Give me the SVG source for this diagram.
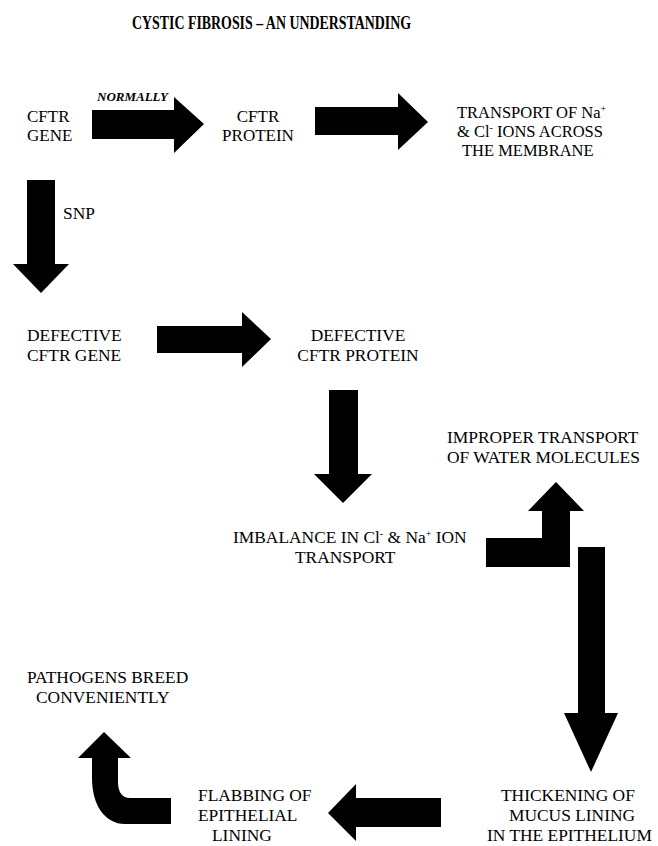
<svg xmlns="http://www.w3.org/2000/svg" width="658" height="846" viewBox="0 0 658 846">
<style>
text { font-family: "Liberation Serif", "Times New Roman", serif; fill: #000; }
.t { font-size: 17.4px; }
.t1 { font-size: 17px; }
.t2 { font-size: 16.5px; }
.title { font-size: 19px; font-weight: bold; }
.lbl { font-size: 13px; font-weight: bold; font-style: italic; }
.sup { font-size: 10px; }
.arrow { fill: #000; stroke: none; }
</style>
<rect x="0" y="0" width="658" height="846" fill="#fff"/>
<g id="title">
<text class="title" x="132" y="29" textLength="279" lengthAdjust="spacingAndGlyphs">CYSTIC FIBROSIS – AN UNDERSTANDING</text>
</g>
<g id="connectors">
<polygon class="arrow" points="92,110 174,110 174,97 204,124 174,153 174,139 92,139"/>
<polygon class="arrow" points="315,107 398,107 398,93 428,122 398,150 398,135 315,135"/>
<polygon class="arrow" points="27,180 55,180 55,264 69,264 41,293 13,264 27,264"/>
<polygon class="arrow" points="157,326 242,326 242,312 271,339 242,367 242,353 157,353"/>
<polygon class="arrow" points="329,390 358,390 358,474 372,474 343,503 314,474 329,474"/>
<polygon class="arrow" points="486,538 542,538 542,511 528,511 556,482 584,511 570,511 570,567 486,567"/>
<polygon class="arrow" points="578,547 605,547 605,713 618,713 591,772 564,713 578,713"/>
<polygon class="arrow" points="441,798 356,798 356,784 328,813 356,841 356,827 441,827"/>
<path class="arrow" d="M171,798 L130,798 C122,798 118,792 118,782 L118,758 L131,758 L104,732 L78,758 L92,758 L92,778 C92,805 105,824 125,824 L171,824 Z"/>
<text class="lbl" x="97" y="101">NORMALLY</text>
<text class="t" x="63" y="219">SNP</text>
</g>
<g id="cftr-gene">
<text class="t1" x="27" y="122">CFTR</text>
<text class="t1" x="27" y="141">GENE</text>
</g>
<g id="cftr-protein">
<text class="t1" x="258" y="122" text-anchor="middle">CFTR</text>
<text class="t1" x="258" y="141" text-anchor="middle">PROTEIN</text>
</g>
<g id="transport">
<text class="t2" x="457" y="118">TRANSPORT OF Na<tspan class="sup" dy="-6">+</tspan></text>
<text class="t2" x="457" y="137">&amp; Cl<tspan class="sup" dy="-6">-</tspan><tspan dy="6"> IONS ACROSS</tspan></text>
<text class="t2" x="462" y="156">THE MEMBRANE</text>
</g>
<g id="defective-gene">
<text class="t" x="27" y="341">DEFECTIVE</text>
<text class="t" x="27" y="361">CFTR GENE</text>
</g>
<g id="defective-protein">
<text class="t" x="358" y="341" text-anchor="middle">DEFECTIVE</text>
<text class="t" x="358" y="361" text-anchor="middle">CFTR PROTEIN</text>
</g>
<g id="improper-transport">
<text class="t" x="447" y="443">IMPROPER TRANSPORT</text>
<text class="t" x="447" y="463">OF WATER MOLECULES</text>
</g>
<g id="imbalance">
<text class="t" x="233" y="543">IMBALANCE IN Cl<tspan class="sup" dy="-6">-</tspan><tspan dy="6"> &amp; Na</tspan><tspan class="sup" dy="-6">+</tspan><tspan dy="6"> ION</tspan></text>
<text class="t" x="295" y="563">TRANSPORT</text>
</g>
<g id="pathogens">
<text class="t" x="27" y="683">PATHOGENS BREED</text>
<text class="t" x="36" y="703">CONVENIENTLY</text>
</g>
<g id="flabbing">
<text class="t" x="198" y="801">FLABBING OF</text>
<text class="t" x="198" y="821">EPITHELIAL</text>
<text class="t" x="212" y="841">LINING</text>
</g>
<g id="thickening">
<text class="t" x="501" y="801">THICKENING OF</text>
<text class="t" x="509" y="821">MUCUS LINING</text>
<text class="t" x="487" y="841">IN THE EPITHELIUM</text>
</g>
</svg>
